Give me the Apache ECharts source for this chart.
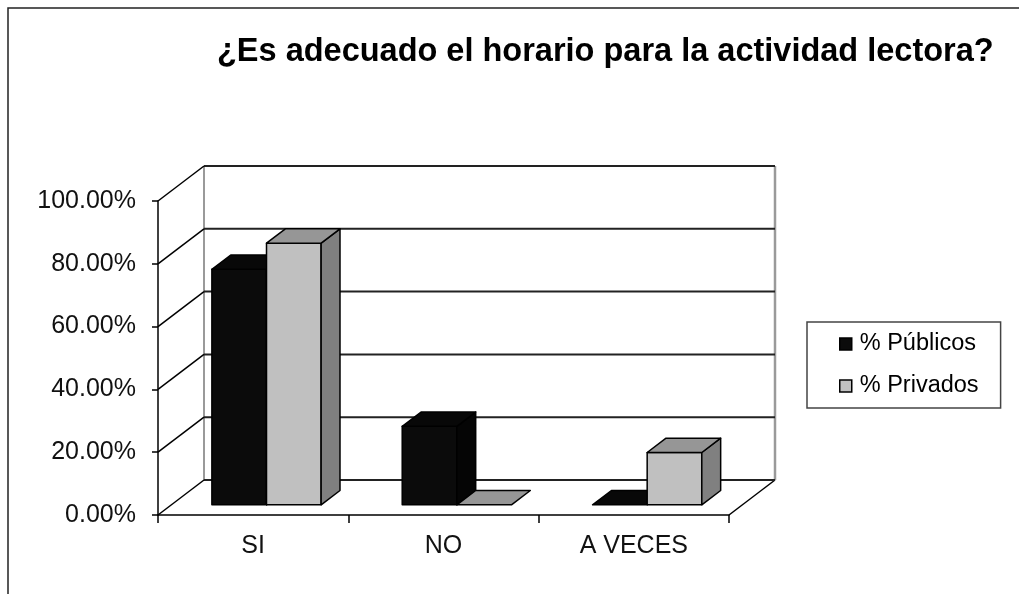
<!DOCTYPE html>
<html>
<head>
<meta charset="utf-8">
<script src="https://cdn.jsdelivr.net/npm/echarts@6/dist/echarts.min.js"></script>
<style>
  html, body { margin: 0; padding: 0; background: #fff; }
  #chart { width: 1019px; height: 594px; }
</style>
</head>
<body>
<div id="chart"></div>
<script>
// Survey answers, as shares of each group
const categories = ['SI', 'NO', 'A VECES'];
const publicos = [0.75, 0.25, 0];
const privados = [0.8333, 0, 0.1667];
const yTicks = [0, 0.2, 0.4, 0.6, 0.8, 1.0];
const seriesNames = ['% Públicos', '% Privados'];

const FONT = "'Liberation Sans', Arial, sans-serif";
// Oblique depth of the floor and side wall, in pixels
const DEPTH_X = 46, DEPTH_Y = -35;
// Bar placement inside the depth (fractions) and bar width (fraction of a category band)
const BAR_FRONT = 0.29, BAR_DEPTH = 0.41, BAR_WIDTH = 0.287;

const palettes = [
  { front: '#0b0b0b', top: '#080808', side: '#050505' },
  { front: '#c0c0c0', top: '#969696', side: '#808080' }
];

function seg(x1, y1, x2, y2, color, width) {
  return { type: 'line', shape: { x1, y1, x2, y2 }, style: { stroke: color, lineWidth: width } };
}

// Back wall, floor and left wall, one gridline per tick value
function renderWall(params, api) {
  const cs = params.coordSys;
  const v = api.value(1);
  const y = api.coord([0, v])[1];
  const x0 = cs.x, x1 = cs.x + cs.width;
  const children = [];
  if (params.dataIndex === 0) {
    const yBase = api.coord([0, 0])[1];
    const yTop = api.coord([0, yTicks[yTicks.length - 1]])[1];
    children.push({ type: 'rect', shape: { x: x0 + DEPTH_X, y: yTop + DEPTH_Y, width: cs.width, height: yBase - yTop }, style: { fill: '#fff' } });
    children.push(seg(x0 + DEPTH_X, yTop + DEPTH_Y, x0 + DEPTH_X, yBase + DEPTH_Y, '#9a9a9a', 2));
    children.push(seg(x1 + DEPTH_X, yTop + DEPTH_Y, x1 + DEPTH_X, yBase + DEPTH_Y, '#9a9a9a', 2.5));
    children.push(seg(x1, yBase, x1 + DEPTH_X, yBase + DEPTH_Y, '#000', 1.5));
  }
  children.push(seg(x0 + DEPTH_X, y + DEPTH_Y, x1 + DEPTH_X, y + DEPTH_Y, '#222', 2));
  children.push(seg(x0, y, x0 + DEPTH_X, y + DEPTH_Y, '#000', 1.5));
  return { type: 'group', children };
}

// Box-shaped bars: front face, right side and top
function makeBarRenderer(k) {
  return function (params, api) {
    const c = api.value(0), v = api.value(1);
    const base = api.coord([c, 0]);
    const top = api.coord([c, v]);
    const band = api.size([1, 0])[0];
    const w = band * BAR_WIDTH;
    const fx = DEPTH_X * BAR_FRONT, fy = DEPTH_Y * BAR_FRONT;
    const dx = DEPTH_X * BAR_DEPTH, dy = DEPTH_Y * BAR_DEPTH;
    const L = base[0] + fx + (k === 0 ? -w : 0), R = L + w;
    const yb = base[1] + fy, yt = top[1] + fy;
    const p = palettes[k];
    const st = (fill) => ({ fill, stroke: '#000', lineWidth: 1.5, lineJoin: 'round' });
    const children = [];
    if (yb - yt > 0.5) {
      children.push({ type: 'polygon', shape: { points: [[L, yb], [R, yb], [R, yt], [L, yt]] }, style: st(p.front) });
      children.push({ type: 'polygon', shape: { points: [[R, yb], [R + dx, yb + dy], [R + dx, yt + dy], [R, yt]] }, style: st(p.side) });
    }
    children.push({ type: 'polygon', shape: { points: [[L, yt], [R, yt], [R + dx, yt + dy], [L + dx, yt + dy]] }, style: st(p.top) });
    return { type: 'group', children };
  };
}

const chart = echarts.init(document.getElementById('chart'), null, { renderer: 'canvas' });

chart.setOption({
  backgroundColor: '#fff',
  animation: false,
  title: {
    text: '¿Es adecuado el horario para la actividad lectora?',
    left: 212, top: 31,
    textStyle: { fontFamily: FONT, fontSize: 32.5, fontWeight: 'bold', color: '#000' }
  },
  graphic: [{
    type: 'rect', z: -10, silent: true,
    shape: { x: 8, y: 8, width: 1100, height: 700 },
    style: { fill: 'none', stroke: '#222', lineWidth: 1.5 }
  }],
  legend: {
    orient: 'vertical', left: 807, top: 322,
    padding: [9, 22, 9, 32], itemGap: 16, itemWidth: 12, itemHeight: 12,
    borderColor: '#444', borderWidth: 1.5,
    textStyle: { fontFamily: FONT, fontSize: 23.5, color: '#000', lineHeight: 26, padding: [0, 0, 0, 3] },
    data: [
      { name: seriesNames[0], icon: 'rect', itemStyle: { color: palettes[0].front, borderColor: '#000', borderWidth: 1.5 } },
      { name: seriesNames[1], icon: 'rect', itemStyle: { color: palettes[1].front, borderColor: '#000', borderWidth: 1.5 } }
    ]
  },
  grid: { left: 158, top: 201, width: 571, height: 314, outerBoundsMode: 'none' },
  xAxis: {
    type: 'category', data: categories,
    axisLine: { lineStyle: { color: '#000', width: 1.5 } },
    axisTick: { show: true, length: 8, interval: 0, lineStyle: { color: '#000', width: 1.5 } },
    axisLabel: { fontFamily: FONT, fontSize: 25, color: '#111', margin: 19 },
    splitLine: { show: false }
  },
  yAxis: {
    type: 'value', min: 0, max: 1, interval: 0.2,
    axisLine: { show: true, lineStyle: { color: '#000', width: 1.5 } },
    axisTick: { show: true, length: 6, lineStyle: { color: '#000', width: 1.5 } },
    axisLabel: { fontFamily: FONT, fontSize: 25, color: '#111', margin: 22, formatter: (v) => (v * 100).toFixed(2) + '%' },
    splitLine: { show: false }
  },
  series: [
    {
      type: 'custom', name: 'walls', z: 1, clip: false, silent: true,
      renderItem: renderWall,
      data: yTicks.map((v) => [0, v])
    },
    {
      type: 'custom', name: seriesNames[0], z: 3, clip: false,
      itemStyle: { color: palettes[0].front },
      renderItem: makeBarRenderer(0),
      data: publicos.map((v, i) => [i, v])
    },
    {
      type: 'custom', name: seriesNames[1], z: 3, clip: false,
      itemStyle: { color: palettes[1].front },
      renderItem: makeBarRenderer(1),
      data: privados.map((v, i) => [i, v])
    }
  ]
});
</script>
</body>
</html>
